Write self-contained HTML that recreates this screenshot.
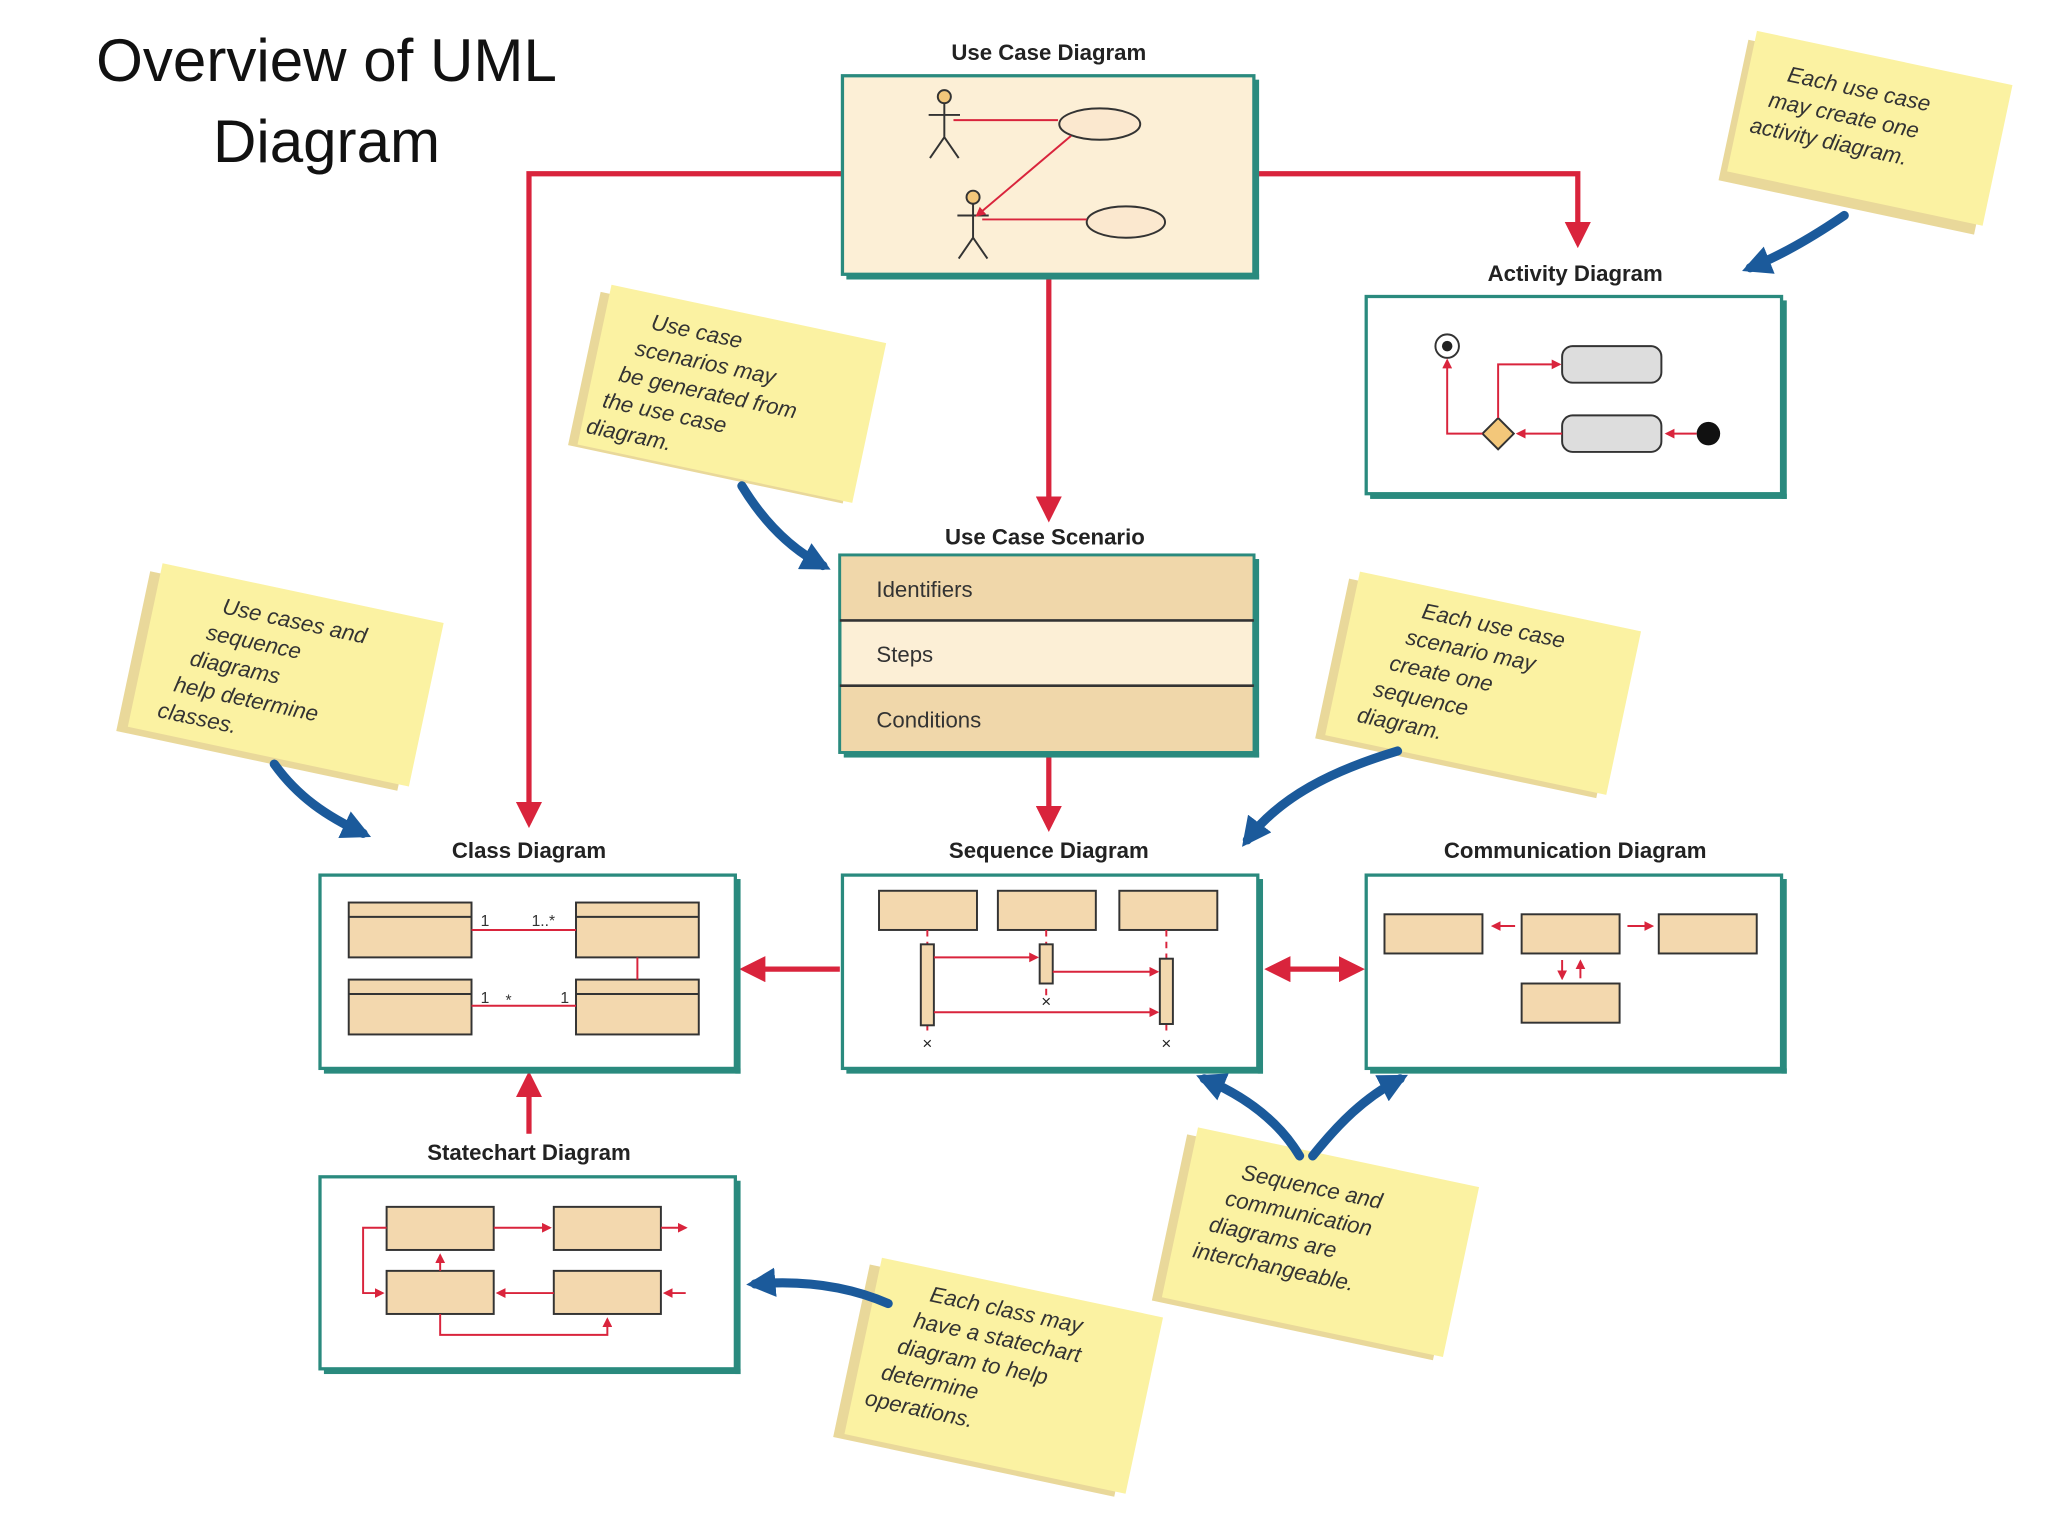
<!DOCTYPE html>
<html><head><meta charset="utf-8"><style>
html,body{margin:0;padding:0;background:#fff;}
svg{display:block;}
.lbl{font-family:"Liberation Sans",sans-serif;font-weight:bold;font-size:17px;fill:#222;text-anchor:middle;}
.note{font-family:"Liberation Sans",sans-serif;font-style:italic;font-size:17px;fill:#333;}
.row{font-family:"Liberation Sans",sans-serif;font-size:17px;fill:#333;}
</style></head><body>
<svg width="2048" height="1536" viewBox="0 0 1568 1176" xmlns="http://www.w3.org/2000/svg">
<defs>
<marker id="ra" viewBox="0 0 10 10" refX="8" refY="5" markerWidth="5" markerHeight="5" orient="auto-start-reverse"><path d="M0,0L10,5L0,10z" fill="#d9243c"/></marker>
<marker id="rs" viewBox="0 0 10 10" refX="8" refY="5" markerWidth="8" markerHeight="8" orient="auto-start-reverse"><path d="M0,0L10,5L0,10z" fill="#d9243c"/></marker>
<marker id="ba" viewBox="0 0 10 10" refX="7" refY="5" markerWidth="3.2" markerHeight="3.2" orient="auto"><path d="M0,0L10,5L0,10z" fill="#1b5a9b"/></marker>
</defs>
<text x="250" y="62" font-family="Liberation Sans,sans-serif" font-size="46" text-anchor="middle" fill="#111">Overview of UML</text>
<text x="250" y="124" font-family="Liberation Sans,sans-serif" font-size="46" text-anchor="middle" fill="#111">Diagram</text>

<!-- red connectors -->
<g stroke="#d9243c" stroke-width="4" fill="none">
<path d="M645,133H405V630" marker-end="url(#ra)"/>
<path d="M962,133H1208V186" marker-end="url(#ra)"/>
<path d="M803,212V396" marker-end="url(#ra)"/>
<path d="M803,578V633" marker-end="url(#ra)"/>
<path d="M643,742H570" marker-end="url(#ra)"/>
<path d="M972,742H1041" marker-start="url(#ra)" marker-end="url(#ra)"/>
<path d="M405,868V824" marker-end="url(#ra)"/>
</g>

<!-- boxes -->
<g stroke="#2a8a7e" stroke-width="2.5">
<rect x="645" y="58" width="315" height="152" fill="#fcefd6"/>
<rect x="1046" y="227" width="318" height="151" fill="#fff"/>
<rect x="643" y="425" width="317" height="151" fill="#fcefd6"/>
<rect x="245" y="670" width="318" height="148" fill="#fff"/>
<rect x="645" y="670" width="318" height="148" fill="#fff"/>
<rect x="1046" y="670" width="318" height="148" fill="#fff"/>
<rect x="245" y="901" width="318" height="147" fill="#fff"/>
</g>
<g fill="#2a8a7e">
<rect x="960" y="61" width="4" height="153"/><rect x="648" y="210" width="316" height="4"/>
<rect x="1364" y="230" width="4" height="152"/><rect x="1049" y="378" width="319" height="4"/>
<rect x="960" y="428" width="4" height="152"/><rect x="646" y="576" width="318" height="4"/>
<rect x="563" y="673" width="4" height="149"/><rect x="248" y="818" width="319" height="4"/>
<rect x="963" y="673" width="4" height="149"/><rect x="648" y="818" width="319" height="4"/>
<rect x="1364" y="673" width="4" height="149"/><rect x="1049" y="818" width="319" height="4"/>
<rect x="563" y="904" width="4" height="148"/><rect x="248" y="1048" width="319" height="4"/>
</g>
<!-- scenario rows -->
<rect x="644" y="426" width="315" height="48" fill="#f0d7aa"/>
<rect x="644" y="526" width="315" height="49" fill="#f0d7aa"/>
<line x1="643" y1="475" x2="960" y2="475" stroke="#333" stroke-width="2"/>
<line x1="643" y1="525" x2="960" y2="525" stroke="#333" stroke-width="2"/>
<text class="row" x="671" y="457">Identifiers</text>
<text class="row" x="671" y="507">Steps</text>
<text class="row" x="671" y="557">Conditions</text>

<!-- labels -->
<text class="lbl" x="803" y="46">Use Case Diagram</text>
<text class="lbl" x="1206" y="215">Activity Diagram</text>
<text class="lbl" x="800" y="417">Use Case Scenario</text>
<text class="lbl" x="405" y="657">Class Diagram</text>
<text class="lbl" x="803" y="657">Sequence Diagram</text>
<text class="lbl" x="1206" y="657">Communication Diagram</text>
<text class="lbl" x="405" y="888">Statechart Diagram</text>

<!-- use case content -->
<g stroke="#333" stroke-width="1.5" fill="none">
<circle cx="723" cy="74" r="5" fill="#f3c77a"/><path d="M723,79V105M711,88H735M723,105L712,121M723,105L734,121"/>
<circle cx="745" cy="151" r="5" fill="#f3c77a"/><path d="M745,156V182M733,165H757M745,182L734,198M745,182L756,198"/>
<ellipse cx="842" cy="95" rx="31" ry="12" fill="#fbe8cf"/>
<ellipse cx="862" cy="170" rx="30" ry="12" fill="#fbe8cf"/>
</g>
<g stroke="#d9243c" stroke-width="1.5" fill="none">
<path d="M730,92H810"/><path d="M752,168H832"/><path d="M820,104L748,165" marker-end="url(#ra)"/>
</g>
<!-- activity content -->
<circle cx="1108" cy="265" r="9" fill="#fff" stroke="#333" stroke-width="1.5"/><circle cx="1108" cy="265" r="4" fill="#222"/>
<rect x="1196" y="265" width="76" height="28" rx="8" fill="#ddd" stroke="#333" stroke-width="1.5"/>
<rect x="1196" y="318" width="76" height="28" rx="8" fill="#ddd" stroke="#333" stroke-width="1.5"/>
<circle cx="1308" cy="332" r="9" fill="#111"/>
<path d="M1147,320L1159,332L1147,344L1135,332z" fill="#f3c77a" stroke="#333" stroke-width="1.5"/>
<g stroke="#d9243c" stroke-width="1.5" fill="none">
<path d="M1299,332H1276" marker-end="url(#ra)"/><path d="M1196,332H1162" marker-end="url(#ra)"/>
<path d="M1147,320V279H1194" marker-end="url(#ra)"/><path d="M1135,332H1108V276" marker-end="url(#ra)"/>
</g>
<!-- class content -->
<g stroke="#333" stroke-width="1.5" fill="#f3d8ae">
<rect x="267" y="691" width="94" height="42"/><rect x="441" y="691" width="94" height="42"/>
<rect x="267" y="750" width="94" height="42"/><rect x="441" y="750" width="94" height="42"/>
</g>
<g stroke="#333" stroke-width="1.5"><path d="M267,702H361M441,702H535M267,761H361M441,761H535"/></g>
<g stroke="#d9243c" stroke-width="1.5"><path d="M361,712H441M361,770H441M488,733V750"/></g>
<g font-family="Liberation Sans,sans-serif" font-size="12" fill="#333">
<text x="368" y="709">1</text><text x="407" y="709">1..*</text><text x="368" y="768">1</text><text x="387" y="770">*</text><text x="429" y="768">1</text></g>
<!-- sequence content -->
<g stroke="#333" stroke-width="1.5" fill="#f3d8ae">
<rect x="673" y="682" width="75" height="30"/><rect x="764" y="682" width="75" height="30"/><rect x="857" y="682" width="75" height="30"/>
</g>
<g stroke="#d9243c" stroke-width="1.5" stroke-dasharray="5,4"><path d="M710,712V790M801,712V765M893,712V790"/></g>
<g stroke="#333" stroke-width="1.5" fill="#f3d8ae">
<rect x="705" y="723" width="10" height="62"/><rect x="796" y="723" width="10" height="30"/><rect x="888" y="734" width="10" height="50"/>
</g>
<g stroke="#d9243c" stroke-width="1.5" fill="none">
<path d="M715,733H794" marker-end="url(#ra)"/><path d="M806,744H886" marker-end="url(#ra)"/><path d="M715,775H886" marker-end="url(#ra)"/>
</g>
<g font-family="Liberation Sans,sans-serif" font-size="13" fill="#222" text-anchor="middle"><text x="710" y="803">×</text><text x="801" y="771">×</text><text x="893" y="803">×</text></g>
<!-- communication content -->
<g stroke="#333" stroke-width="1.5" fill="#f3d8ae">
<rect x="1060" y="700" width="75" height="30"/><rect x="1165" y="700" width="75" height="30"/><rect x="1270" y="700" width="75" height="30"/><rect x="1165" y="753" width="75" height="30"/>
</g>
<g stroke="#d9243c" stroke-width="1.5" fill="none">
<path d="M1160,709H1143" marker-end="url(#ra)"/><path d="M1246,709H1265" marker-end="url(#ra)"/>
<path d="M1196,735V749" marker-end="url(#ra)"/><path d="M1210,749V736" marker-end="url(#ra)"/>
</g>
<!-- statechart content -->
<g stroke="#333" stroke-width="1.5" fill="#f3d8ae">
<rect x="296" y="924" width="82" height="33"/><rect x="424" y="924" width="82" height="33"/>
<rect x="296" y="973" width="82" height="33"/><rect x="424" y="973" width="82" height="33"/>
</g>
<g stroke="#d9243c" stroke-width="1.5" fill="none">
<path d="M378,940H421" marker-end="url(#ra)"/><path d="M506,940H525" marker-end="url(#ra)"/>
<path d="M424,990H381" marker-end="url(#ra)"/><path d="M525,990H509" marker-end="url(#ra)"/>
<path d="M337,973V961" marker-end="url(#ra)"/>
<path d="M296,940H278V990H293" marker-end="url(#ra)"/>
<path d="M337,1006V1022H465V1010" marker-end="url(#ra)"/>
</g>

<!-- sticky notes -->
<g>
<g transform="rotate(12 1425 105)"><rect x="1325" y="50" width="200" height="110" fill="#e9d89a"/><rect x="1330" y="42" width="200" height="110" fill="#fbf2a2"/>
<text class="note" x="1360" y="75">Each use case</text><text class="note" x="1350" y="97">may create one</text><text class="note" x="1340" y="119">activity diagram.</text></g>
<g transform="rotate(12 555 305)"><rect x="445" y="245" width="215" height="120" fill="#e9d89a"/><rect x="452" y="238" width="215" height="125" fill="#fbf2a2"/>
<text class="note" x="488" y="265">Use case</text><text class="note" x="480" y="287">scenarios may</text><text class="note" x="472" y="309">be generated from</text><text class="note" x="464" y="331">the use case</text><text class="note" x="456" y="353">diagram.</text></g>
<g transform="rotate(12 215 520)"><rect x="100" y="460" width="220" height="125" fill="#e9d89a"/><rect x="108" y="452" width="220" height="128" fill="#fbf2a2"/>
<text class="note" x="160" y="480">Use cases and</text><text class="note" x="152" y="502">sequence</text><text class="note" x="144" y="524">diagrams</text><text class="note" x="136" y="546">help determine</text><text class="note" x="128" y="568">classes.</text></g>
<g transform="rotate(12 1130 525)"><rect x="1018" y="465" width="220" height="125" fill="#e9d89a"/><rect x="1025" y="458" width="220" height="128" fill="#fbf2a2"/>
<text class="note" x="1078" y="483">Each use case</text><text class="note" x="1070" y="505">scenario may</text><text class="note" x="1062" y="527">create one</text><text class="note" x="1054" y="549">sequence</text><text class="note" x="1046" y="571">diagram.</text></g>
<g transform="rotate(12 1003 955)"><rect x="893" y="890" width="220" height="130" fill="#e9d89a"/><rect x="900" y="883" width="220" height="133" fill="#fbf2a2"/>
<text class="note" x="940" y="915">Sequence and</text><text class="note" x="932" y="937">communication</text><text class="note" x="924" y="959">diagrams are</text><text class="note" x="916" y="981">interchangeable.</text></g>
<g transform="rotate(12 762 1055)"><rect x="650" y="990" width="220" height="135" fill="#e9d89a"/><rect x="658" y="983" width="220" height="138" fill="#fbf2a2"/>
<text class="note" x="700" y="1008">Each class may</text><text class="note" x="692" y="1030">have a statechart</text><text class="note" x="684" y="1052">diagram to help</text><text class="note" x="676" y="1074">determine</text><text class="note" x="668" y="1096">operations.</text></g>
</g>

<!-- blue arrows -->
<g stroke="#1b5a9b" stroke-width="7" fill="none" stroke-linecap="round">
<path d="M1412,165C1390,180 1365,195 1340,205" marker-end="url(#ba)"/>
<path d="M568,372C585,400 605,420 630,433" marker-end="url(#ba)"/>
<path d="M210,585C228,610 250,625 278,638" marker-end="url(#ba)"/>
<path d="M1070,575C1020,590 980,610 955,643" marker-end="url(#ba)"/>
<path d="M995,885C980,860 955,840 922,826" marker-end="url(#ba)"/>
<path d="M1005,885C1025,860 1045,840 1072,826" marker-end="url(#ba)"/>
<path d="M680,998C650,985 615,980 578,983" marker-end="url(#ba)"/>
</g>
</svg>
</body></html>
